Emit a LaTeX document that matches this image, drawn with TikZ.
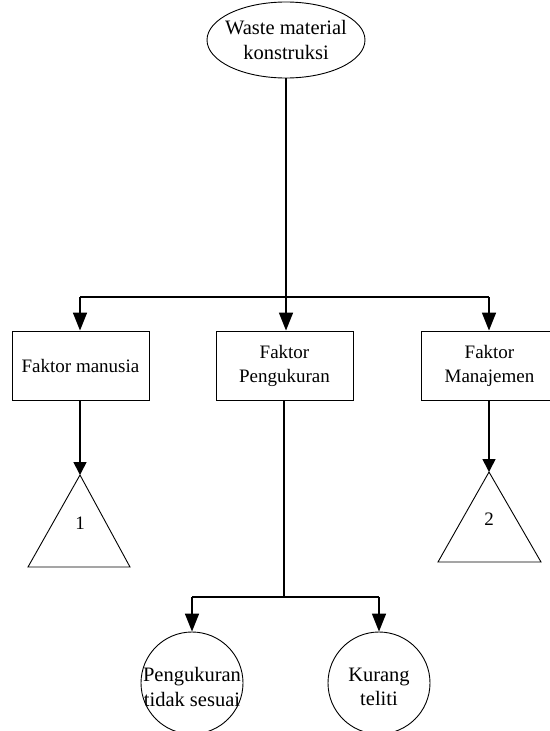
\documentclass[tikz,border=0pt]{standalone}
\usepackage{fontspec}
\setmainfont{Liberation Serif}
\usetikzlibrary{shapes.geometric,arrows.meta}
\begin{document}
\begin{tikzpicture}[x=1pt,y=-1pt,
  every node/.style={font=\fontsize{19}{24}\selectfont},
  bigtxt/.style={font=\fontsize{20.5}{24.5}\selectfont},
  shapeline/.style={draw, line width=0.9pt},
  txt/.style={align=center, inner sep=0pt},
  boxnode/.style={shapeline, rectangle, minimum width=137pt, minimum height=69pt, inner sep=0pt, align=center},
  conn/.style={line width=1.7pt, -{Triangle[length=18pt,width=14pt]}},
  conntri/.style={line width=1.7pt, -{Triangle[length=13pt,width=13pt]}},
  trunk/.style={line width=1.7pt}]
\useasboundingbox (0,0) rectangle (549,731);
% root
\node[shapeline, ellipse, minimum width=158pt, minimum height=76pt, inner sep=0pt] (root) at (286,40) {};
\node[txt, bigtxt] (roottxt) at (286,40) {Waste material\\konstruksi};
% boxes
\node[boxnode] (fm) at (80.5,365.5) {Faktor manusia};
\node[boxnode] (fp) at (284.5,365.5) {Faktor\\Pengukuran};
\node[boxnode] (fj) at (489.5,365.5) {Faktor\\Manajemen};
% junction
\coordinate (j1) at (286,297);
\coordinate (jl) at (80,297);
\coordinate (jr) at (489,297);
\draw[trunk] (root.south) -- (j1);
\draw[trunk] (jl) -- (jr);
\draw[conn] (jl) -- (jl |- fm.north);
\draw[conn] (j1) -- (j1 |- fp.north);
\draw[conn] (jr) -- (jr |- fj.north);
% triangles
\coordinate (t1) at (80,475);
\coordinate (t2) at (489,472);
\draw[line width=0.9pt] (t1) -- (28,567) -- (130,567) -- cycle;
\draw[line width=0.9pt] (t2) -- (438,562) -- (541,562) -- cycle;
\node[txt] (t1txt) at (80,523) {1};
\node[txt] (t2txt) at (489,519) {2};
\draw[conntri] (fm.south -| t1) -- (t1);
\draw[conntri] (fj.south -| t2) -- (t2);
% bottom branch
\coordinate (j2) at (284,597);
\coordinate (j2l) at (192,597);
\coordinate (j2r) at (379,597);
\node[shapeline, circle, minimum size=102pt, inner sep=0pt] (c1) at (192,683) {};
\node[shapeline, circle, minimum size=102pt, inner sep=0pt] (c2) at (379,683) {};
\node[txt, bigtxt] (c1txt) at (192,687) {Pengukuran\\tidak sesuai};
\node[txt, bigtxt] (c2txt) at (379,687) {Kurang\\teliti};
\draw[trunk] (fp.south -| j2) -- (j2);
\draw[trunk] (j2l) -- (j2r);
\draw[conn] (j2l) -- (c1.north);
\draw[conn] (j2r) -- (c2.north);
\end{tikzpicture}
\end{document}
